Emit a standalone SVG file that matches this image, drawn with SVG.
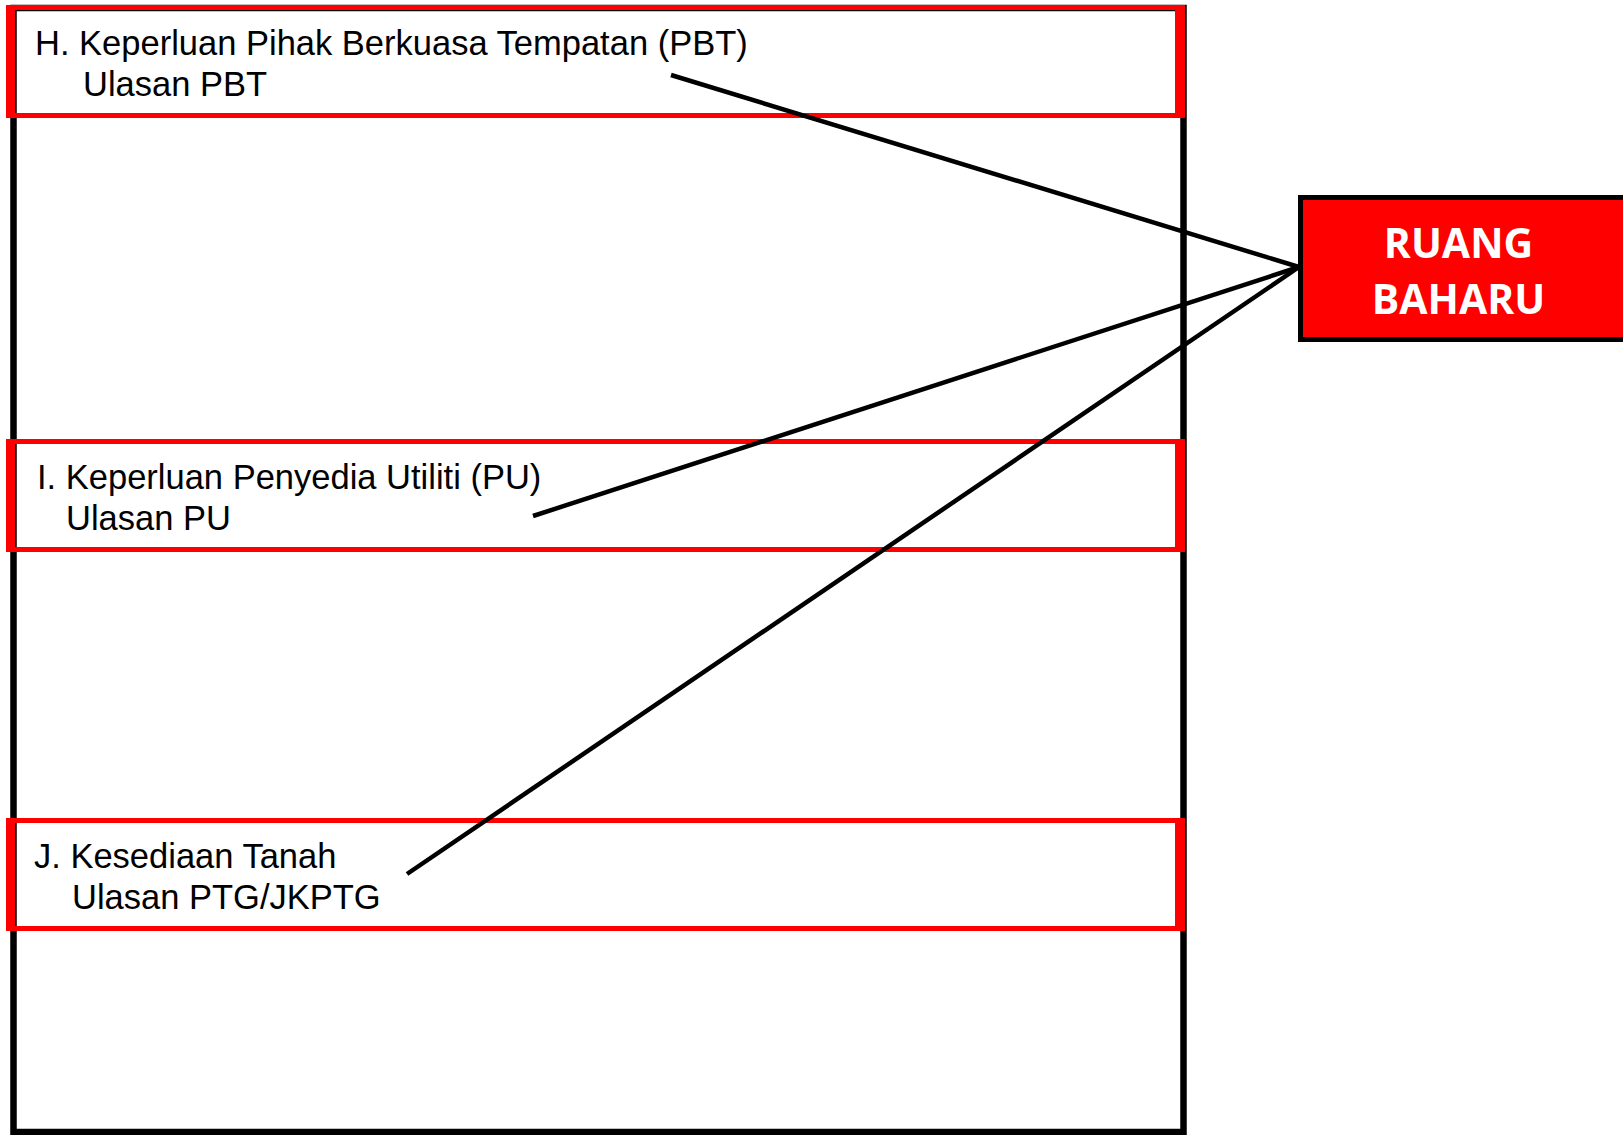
<svg xmlns="http://www.w3.org/2000/svg" width="1623" height="1135" viewBox="0 0 1623 1135">
<style>
.frame{fill:none;stroke:#000;stroke-width:6.5}
.band{fill:#ff0000;fill-rule:evenodd}
.lbl{font-family:"Liberation Sans",Arial,sans-serif;font-size:34.5px;fill:#000}
.tgt{fill:#ff0000;stroke:#000;stroke-width:5}
.tgtl{font-family:"Open Sans","Liberation Sans",sans-serif;font-weight:bold;font-size:41px;fill:#fff;text-anchor:middle}
.conn{stroke:#000;stroke-width:4.5;fill:none}
</style>
<rect width="1623" height="1135" fill="#fff"/>
<g id="outer-frame">
<rect class="frame" x="13.5" y="8" width="1170" height="1124"/>
</g>
<g id="node-H">
<path class="band" d="M6 5H1185V118H6Z M15 10V113H1175V10Z"/>
<text class="lbl" x="35" y="55">H. Keperluan Pihak Berkuasa Tempatan (PBT)</text>
<text class="lbl" x="83" y="96">Ulasan PBT</text>
</g>
<g id="node-I">
<path class="band" d="M6 439H1185V552H6Z M15 444V547H1175V444Z"/>
<text class="lbl" x="37" y="489">I. Keperluan Penyedia Utiliti (PU)</text>
<text class="lbl" x="66" y="530">Ulasan PU</text>
</g>
<g id="node-J">
<path class="band" d="M6 818H1185V931H6Z M15 823V926H1175V823Z"/>
<text class="lbl" x="34" y="868">J. Kesediaan Tanah</text>
<text class="lbl" x="72" y="909">Ulasan PTG/JKPTG</text>
</g>
<g id="node-ruang-baharu">
<rect class="tgt" x="1300.5" y="197.5" width="1316" height="142"/>
<text class="tgtl" x="1458.5" y="258">RUANG</text>
<text class="tgtl" x="1458.5" y="314">BAHARU</text>
</g>
<g id="connectors">
<line class="conn" x1="671" y1="75" x2="1299" y2="267"/>
<line class="conn" x1="533" y1="516" x2="1299" y2="267"/>
<line class="conn" x1="407" y1="874" x2="1299" y2="267"/>
</g>
</svg>
